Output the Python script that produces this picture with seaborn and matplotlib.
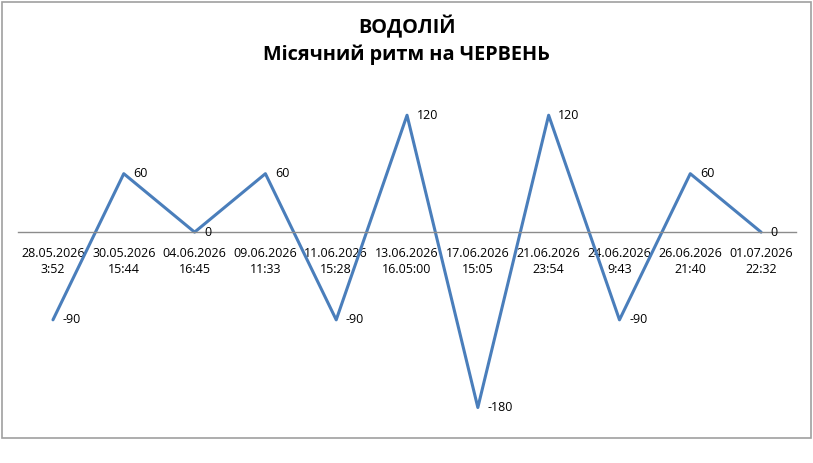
import matplotlib
matplotlib.use("Agg")
import matplotlib.pyplot as plt
from matplotlib.patches import Rectangle
import seaborn as sns
import pandas as pd

dates = ["28.05.2026\n3:52", "30.05.2026\n15:44", "04.06.2026\n16:45", "09.06.2026\n11:33",
         "11.06.2026\n15:28", "13.06.2026\n16.05:00", "17.06.2026\n15:05", "21.06.2026\n23:54",
         "24.06.2026\n9:43", "26.06.2026\n21:40", "01.07.2026\n22:32"]
values = [-90, 60, 0, 60, -90, 120, -180, 120, -90, 60, 0]
title_lines = ["ВОДОЛІЙ", "Місячний ритм на ЧЕРВЕНЬ"]

sns.set_style("white")
plt.rcParams['font.family'] = ['Open Sans', 'DejaVu Sans']

df = pd.DataFrame({"idx": list(range(len(values))), "value": values})

fig = plt.figure(figsize=(8.13, 4.63), dpi=100)
ax = fig.add_axes([0.0216, (463 - 427) / 463, 0.9581, 341 / 463])
sns.lineplot(data=df, x="idx", y="value", ax=ax, color="#4A7EBB", linewidth=2.2)

ax.set_xlim(-0.5, len(values) - 0.5)
ax.set_ylim(-200, 150)
ax.set_yticks([])
ax.set_xlabel("")
ax.set_ylabel("")
for s in ["top", "right", "left"]:
    ax.spines[s].set_visible(False)
ax.spines["bottom"].set_position(("data", 0))
ax.spines["bottom"].set_color("#8c8c8c")
ax.spines["bottom"].set_linewidth(1.0)
ax.set_xticks(df["idx"], dates)
ax.tick_params(axis="x", length=0, pad=11, labelsize=9, colors="#000000")
for lbl in ax.get_xticklabels():
    lbl.set_linespacing(1.25)

for i, v in zip(df["idx"], df["value"]):
    ax.annotate(str(v), (i, v), xytext=(7, 0), textcoords="offset points",
                ha="left", va="center", fontsize=9, color="#000000")

fig.text(0.5, 1 - 27 / 463, title_lines[0], ha="center", va="center",
         fontsize=14.3, fontweight="bold", color="#000000")
fig.text(0.5, 1 - 55 / 463, title_lines[1], ha="center", va="center",
         fontsize=14.3, fontweight="bold", color="#000000")

fig.patches.append(Rectangle((1.5 / 813, (463 - 438) / 463), 809.5 / 813, 436.5 / 463,
                             transform=fig.transFigure, fill=False,
                             edgecolor="#a0a0a0", linewidth=1.2))

fig.savefig("out.png", dpi=100)
